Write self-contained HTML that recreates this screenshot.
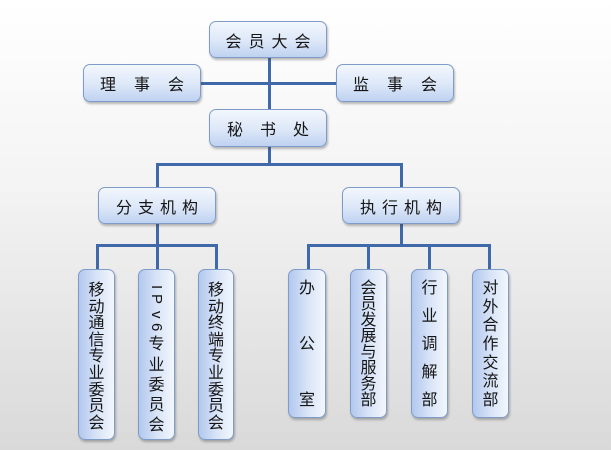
<!DOCTYPE html>
<html><head><meta charset="utf-8"><style>
html,body{margin:0;padding:0}
body{width:611px;height:450px;position:relative;overflow:hidden;background:linear-gradient(to bottom,#ffffff 0%,#f4f4f4 40%,#d9d9d9 100%);font-family:"Liberation Sans","Noto Sans CJK SC",sans-serif;color:#151515}
.b{position:absolute;box-sizing:border-box;border:1px solid #7f9cc8;border-radius:7px;box-shadow:1px 2px 2px rgba(60,60,60,0.35);background:linear-gradient(to bottom,#f3f7fd 0%,#dce7f8 55%,#bfd2f1 100%);display:flex;align-items:center;justify-content:center;font-size:16px;white-space:nowrap}
.t{background:linear-gradient(to right,#b2c8ee 0%,#d7e3f7 50%,#f3f7fd 100%)}
.l{position:absolute;background:#3f69a8}
.c{position:absolute;left:0;width:100%;height:17px;line-height:17px;text-align:center;font-size:16px}
.r{writing-mode:vertical-rl;font-size:15px}
</style></head><body>
<!-- lines -->
<div class="l" style="left:268px;top:57px;width:3px;height:53px"></div>
<div class="l" style="left:200px;top:82px;width:137px;height:3px"></div>
<div class="l" style="left:268px;top:146px;width:3px;height:19px"></div>
<div class="l" style="left:156px;top:163px;width:247px;height:3px"></div>
<div class="l" style="left:156px;top:163px;width:3px;height:25px"></div>
<div class="l" style="left:400px;top:163px;width:3px;height:25px"></div>
<div class="l" style="left:156px;top:223px;width:3px;height:23px"></div>
<div class="l" style="left:96px;top:244px;width:122px;height:3px"></div>
<div class="l" style="left:96px;top:244px;width:3px;height:26px"></div>
<div class="l" style="left:156px;top:244px;width:3px;height:26px"></div>
<div class="l" style="left:215px;top:244px;width:3px;height:26px"></div>
<div class="l" style="left:400px;top:223px;width:3px;height:23px"></div>
<div class="l" style="left:307px;top:244px;width:184px;height:3px"></div>
<div class="l" style="left:307px;top:244px;width:3px;height:26px"></div>
<div class="l" style="left:367px;top:244px;width:3px;height:26px"></div>
<div class="l" style="left:428px;top:244px;width:3px;height:26px"></div>
<div class="l" style="left:488px;top:244px;width:3px;height:26px"></div>

<!-- top boxes -->
<div class="b" style="left:209px;top:21px;width:118px;height:37px;letter-spacing:7px;padding-left:7px">会员大会</div>
<div class="b" style="left:83px;top:64px;width:118px;height:38px;letter-spacing:18px;padding-left:18px">理事会</div>
<div class="b" style="left:336px;top:64px;width:118px;height:38px;letter-spacing:18px;padding-left:18px">监事会</div>
<div class="b" style="left:209px;top:109px;width:118px;height:38px;letter-spacing:17px;padding-left:17px">秘书处</div>
<div class="b" style="left:98px;top:187px;width:118px;height:37px;letter-spacing:6px;padding-left:6px">分支机构</div>
<div class="b" style="left:342px;top:187px;width:118px;height:37px;letter-spacing:6px;padding-left:6px">执行机构</div>

<!-- tall boxes left -->
<div class="b t" style="left:78px;top:269px;width:37px;height:171px;display:block">
<div class="c" style="top:12px">移</div><div class="c" style="top:28.6px">动</div><div class="c" style="top:45.2px">通</div><div class="c" style="top:61.8px">信</div><div class="c" style="top:78.4px">专</div><div class="c" style="top:95px">业</div><div class="c" style="top:111.6px">委</div><div class="c" style="top:128.2px">员</div><div class="c" style="top:144.8px">会</div>
</div>
<div class="b t" style="left:138px;top:269px;width:37px;height:171px;display:block">
<div class="c" style="top:6px;height:17px"><span class="r">I</span></div>
<div class="c" style="top:21px;height:17px"><span class="r">P</span></div>
<div class="c" style="top:35px;height:17px"><span class="r">v</span></div>
<div class="c" style="top:48px;height:17px"><span class="r">6</span></div>
<div class="c" style="top:66px">专</div><div class="c" style="top:87px">业</div><div class="c" style="top:107px">委</div><div class="c" style="top:127px">员</div><div class="c" style="top:147px">会</div>
</div>
<div class="b t" style="left:198px;top:269px;width:36px;height:171px;display:block">
<div class="c" style="top:12px">移</div><div class="c" style="top:28.6px">动</div><div class="c" style="top:45.2px">终</div><div class="c" style="top:61.8px">端</div><div class="c" style="top:78.4px">专</div><div class="c" style="top:95px">业</div><div class="c" style="top:111.6px">委</div><div class="c" style="top:128.2px">员</div><div class="c" style="top:144.8px">会</div>
</div>

<!-- tall boxes right -->
<div class="b t" style="left:288px;top:269px;width:38px;height:149px;display:block">
<div class="c" style="top:10px">办</div><div class="c" style="top:66px">公</div><div class="c" style="top:122px">室</div>
</div>
<div class="b t" style="left:350px;top:269px;width:37px;height:149px;display:block">
<div class="c" style="top:10px">会</div><div class="c" style="top:26px">员</div><div class="c" style="top:42px">发</div><div class="c" style="top:58px">展</div><div class="c" style="top:74px">与</div><div class="c" style="top:90px">服</div><div class="c" style="top:106px">务</div><div class="c" style="top:122px">部</div>
</div>
<div class="b t" style="left:411px;top:269px;width:37px;height:149px;display:block">
<div class="c" style="top:10px">行</div><div class="c" style="top:38px">业</div><div class="c" style="top:66px">调</div><div class="c" style="top:94px">解</div><div class="c" style="top:122px">部</div>
</div>
<div class="b t" style="left:472px;top:269px;width:37px;height:149px;display:block">
<div class="c" style="top:10px">对</div><div class="c" style="top:28.7px">外</div><div class="c" style="top:47.3px">合</div><div class="c" style="top:66px">作</div><div class="c" style="top:84.7px">交</div><div class="c" style="top:103.3px">流</div><div class="c" style="top:122px">部</div>
</div>
</body></html>
